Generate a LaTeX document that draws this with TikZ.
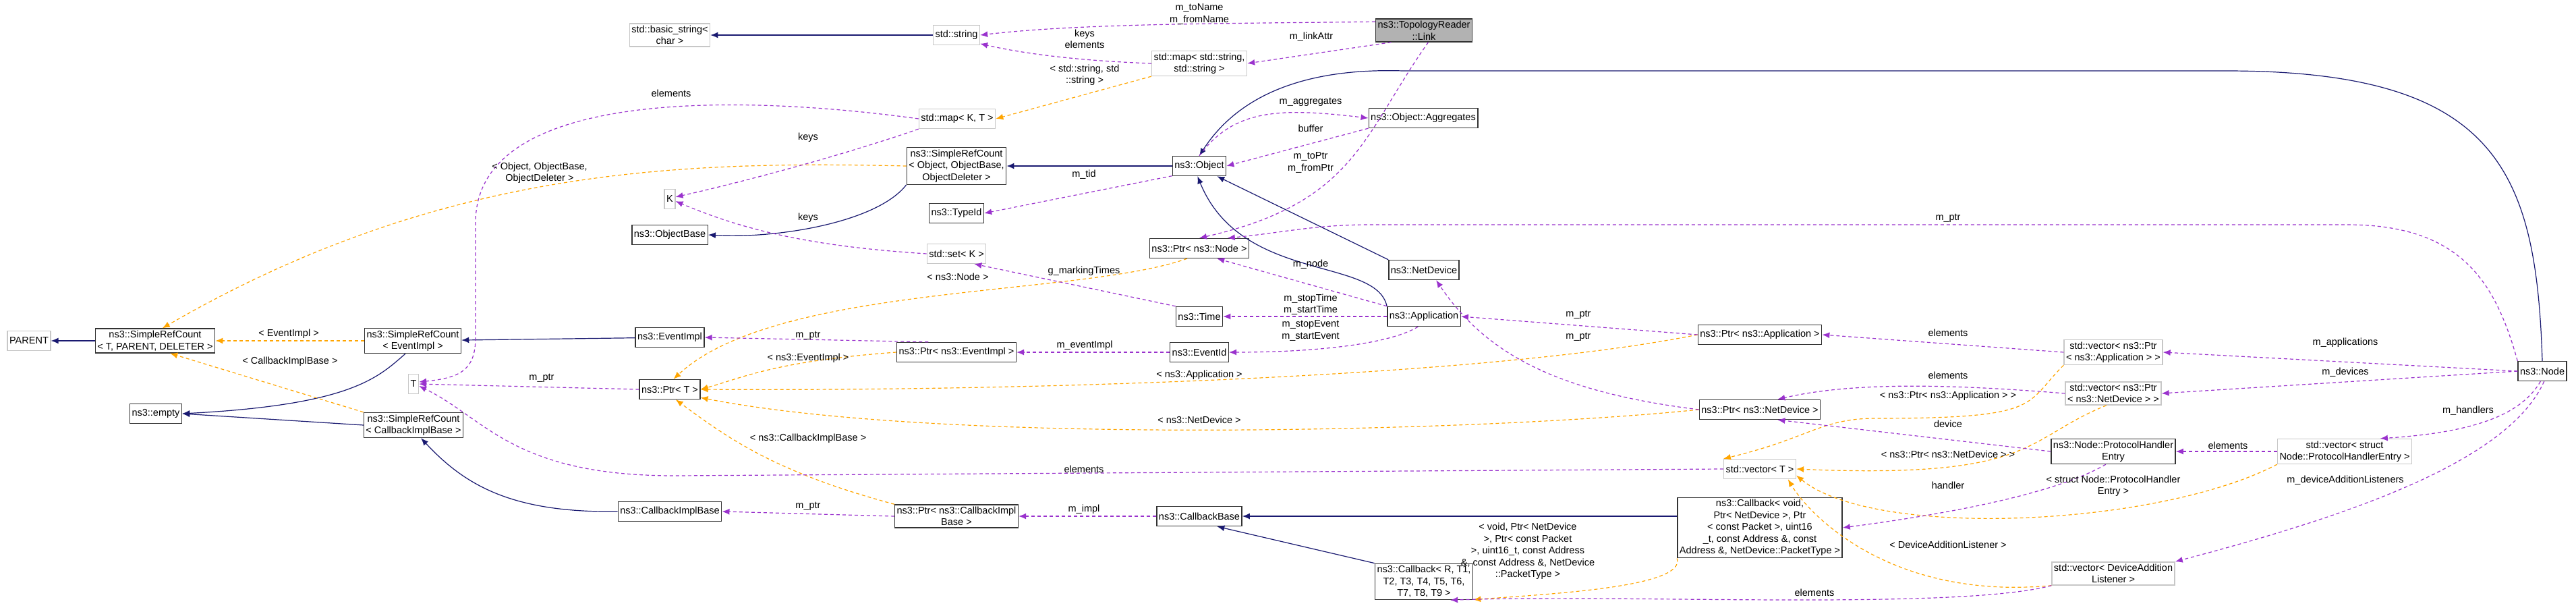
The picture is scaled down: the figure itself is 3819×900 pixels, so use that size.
\documentclass[tikz,border=0pt]{standalone}
\usepackage{fontspec}
\setmainfont{Liberation Sans}
\usetikzlibrary{arrows.meta}
\definecolor{inhblue}{HTML}{191970}
\definecolor{usepurple}{HTML}{9A32CD}
\definecolor{tplorange}{HTML}{FFA500}
\tikzset{
  cls/.style={draw=black!80,line width=1.4pt,fill=white,inner sep=3pt,minimum height=29pt,align=center,font=\fontsize{14.5}{17.5}\selectfont},
  ext/.style={cls,draw=black!22},
  hl/.style={cls,fill=black!30},
  lbl/.style={inner sep=1pt,align=center,font=\fontsize{14.5}{17.5}\selectfont},
  inh/.style={draw=inhblue,line width=1.2pt,-{Latex[length=11pt,width=9pt]}},
  use/.style={draw=usepurple,line width=1.2pt,dash pattern=on 5pt off 4pt,-{Latex[length=11pt,width=9pt]}},
  tpl/.style={draw=tplorange,line width=1.2pt,dash pattern=on 5pt off 4pt,-{Latex[length=11pt,width=9pt]}}
}
\begin{document}
\begin{tikzpicture}[x=1pt,y=-1pt]
  \useasboundingbox (0,0) rectangle (3819,900);
  % classes
  \node[ext] (parent) at (43,505) {PARENT};
  \node[cls] (srcT) at (230,505) {ns3::SimpleRefCount\\< T, PARENT, DELETER >};
  \node[cls] (empty) at (231,613) {ns3::empty};
  \node[cls] (srcEv) at (612,505) {ns3::SimpleRefCount\\< EventImpl >};
  \node[cls] (srcCB) at (613,630) {ns3::SimpleRefCount\\< CallbackImplBase >};
  \node[ext] (T) at (613,569) {T};
  \node[ext] (bstr) at (993,52) {std::basic\_string<\\char >};
  \node[ext] (K) at (993,295) {K};
  \node[cls] (objBase) at (993,348) {ns3::ObjectBase};
  \node[cls] (evImpl) at (993,500) {ns3::EventImpl};
  \node[cls] (ptrT) at (993,577) {ns3::Ptr< T >};
  \node[cls] (cbImpl) at (993,758) {ns3::CallbackImplBase};
  \node[ext] (str) at (1418,52) {std::string};
  \node[ext] (mapKT) at (1419,176) {std::map< K, T >};
  \node[cls] (srcObj) at (1418,246) {ns3::SimpleRefCount\\< Object, ObjectBase,\\ ObjectDeleter >};
  \node[cls] (typeId) at (1418,316) {ns3::TypeId};
  \node[ext] (setK) at (1418,376) {std::set< K >};
  \node[cls] (ptrEv) at (1418,522) {ns3::Ptr< ns3::EventImpl >};
  \node[cls] (ptrCB) at (1418,765) {ns3::Ptr< ns3::CallbackImpl\\Base >};
  \node[ext] (strmap) at (1778,94) {std::map< std::string,\\ std::string >};
  \node[cls] (object) at (1778,246) {ns3::Object};
  \node[cls] (ptrNode) at (1778,368) {ns3::Ptr< ns3::Node >};
  \node[cls] (time) at (1778,469) {ns3::Time};
  \node[cls] (evId) at (1778,522) {ns3::EventId};
  \node[cls] (cbBase) at (1778,765) {ns3::CallbackBase};
  \node[hl] (link) at (2111,45) {ns3::TopologyReader\\::Link};
  \node[cls] (aggr) at (2110,175) {ns3::Object::Aggregates};
  \node[cls] (netdev) at (2111,400) {ns3::NetDevice};
  \node[cls] (app) at (2111,469) {ns3::Application};
  \node[cls] (cbR) at (2111,862) {ns3::Callback< R, T1,\\ T2, T3, T4, T5, T6,\\ T7, T8, T9 >};
  \node[cls] (ptrApp) at (2609,496) {ns3::Ptr< ns3::Application >};
  \node[cls] (ptrNd) at (2609,607) {ns3::Ptr< ns3::NetDevice >};
  \node[ext] (vecT) at (2609,695) {std::vector< T >};
  \node[cls] (cbVoid) at (2609,782) {ns3::Callback< void,\\ Ptr< NetDevice >, Ptr\\< const Packet >, uint16\\\_t, const Address \&, const\\ Address \&, NetDevice::PacketType >};
  \node[ext] (vecApp) at (3133,522) {std::vector< ns3::Ptr\\< ns3::Application > >};
  \node[ext] (vecNd) at (3133,583) {std::vector< ns3::Ptr\\< ns3::NetDevice > >};
  \node[cls] (phe) at (3133,669) {ns3::Node::ProtocolHandler\\Entry};
  \node[ext] (vecDal) at (3133,850) {std::vector< DeviceAddition\\Listener >};
  \node[ext] (vecPhe) at (3476,669) {std::vector< struct\\ Node::ProtocolHandlerEntry >};
  \node[cls] (node) at (3769,550) {ns3::Node};
  % inheritance
  \draw[inh] (str) -- (bstr);
  \draw[inh] (srcT) -- (parent);
  \draw[inh] (srcEv.240) .. controls (560,560) and (520,600) .. (empty.east);
  \draw[inh] (srcCB.west) -- (empty.east);
  \draw[inh] (evImpl) -- (srcEv);
  \draw[inh] (cbImpl.west) .. controls (760,760) and (690,720) .. (srcCB.-60);
  \draw[inh] (srcObj.south west) .. controls (1300,330) and (1150,354) .. (objBase.east);
  \draw[inh] (object) -- (srcObj);
  \draw[inh] (node.north) .. controls (3760,250) and (3700,105) .. (3300,105) -- (2080,105) .. controls (1920,100) and (1830,150) .. (object.north);
  \draw[inh] (netdev.north west) -- (object.-30);
  \draw[inh] (app.north west) .. controls (2040,380) and (1840,420) .. (object.-100);
  \draw[inh] (cbVoid.west |- cbBase) -- (cbBase.east);
  \draw[inh] (cbR.north west) -- (cbBase.-30);
  % template instances
  \draw[tpl] (srcEv.west) -- (srcT.east);
  \draw[tpl] (srcCB.north west) -- (srcT.-40);
  \draw[tpl] (srcObj.west) .. controls (1000,238) and (650,250) .. (srcT.60);
  \draw[tpl] (strmap.south west) -- (mapKT.east);
  \draw[tpl] (ptrEv.west) .. controls (1150,535) and (1100,560) .. (ptrT.east);
  \draw[tpl] (ptrNode.220) .. controls (1600,440) and (1150,420) .. (ptrT.70);
  \draw[tpl] (ptrApp.west) .. controls (2200,560) and (1500,580) .. (ptrT.east);
  \draw[tpl] (ptrNd.west) .. controls (2200,640) and (1400,660) .. (ptrT.-15);
  \draw[tpl] (ptrCB.north west) .. controls (1150,700) and (1080,650) .. (ptrT.-60);
  \draw[tpl] (vecApp.south west) .. controls (3000,600) and (3030,620) .. (2780,620) .. controls (2700,620) and (2680,650) .. (vecT.north west);
  \draw[tpl] (vecNd.240) .. controls (3000,650) and (3020,710) .. (vecT.east);
  \draw[tpl] (vecPhe.south west) .. controls (3200,780) and (2780,800) .. (vecT.-10);
  \draw[tpl] (vecDal.south west) .. controls (2800,890) and (2680,760) .. (vecT.-20);
  \draw[tpl] (cbVoid.south west) .. controls (2500,870) and (2300,880) .. (cbR.-20);
  % usage
  \draw[use] (link.170) .. controls (1800,35) and (1600,35) .. (str.east);
  \draw[use] (link.200) -- (strmap.east);
  \draw[use] (link.-70) .. controls (2020,200) and (2010,300) .. (ptrNode.north);
  \draw[use] (strmap.west) .. controls (1600,90) and (1520,80) .. (str.-20);
  \draw[use] (mapKT.south west) .. controls (1250,230) and (1100,270) .. (K.20);
  \draw[use] (mapKT.west) .. controls (1100,140) and (705,130) .. (705,330) -- (705,500) .. controls (705,550) and (680,560) .. (T.20);
  \draw[use] (setK.west) .. controls (1200,365) and (1100,340) .. (K.-20);
  \draw[use] (object.north) .. controls (1830,160) and (1900,160) .. (aggr.west);
  \draw[use] (aggr.south west) -- (object.east);
  \draw[use] (object.-160) -- (typeId.east);
  \draw[use] (ptrT.west) -- (T.east);
  \draw[use] (ptrEv.160) -- (evImpl.east);
  \draw[use] (evId.west) -- (ptrEv.east);
  \draw[use] (app.west) -- (time.east);
  \draw[use] (app.-120) .. controls (2060,510) and (1950,522) .. (evId.east);
  \draw[use] (app.north west) -- (ptrNode.-30);
  \draw[use] (ptrApp.west) -- (app.east);
  \draw[use] (ptrNd.west) .. controls (2300,580) and (2200,520) .. (netdev.-40);
  \draw[use] (time.north west) -- (setK.-30);
  \draw[use] (cbBase.west) -- (ptrCB.east);
  \draw[use] (ptrCB.west) -- (cbImpl.east);
  \draw[use] (node.north west) .. controls (3700,420) and (3650,333) .. (3480,333) -- (2030,333) .. controls (1950,333) and (1900,345) .. (ptrNode.20);
  \draw[use] (vecT.west) -- (1000,705) .. controls (760,705) and (720,620) .. (T.-20);
  \draw[use] (vecApp.west) -- (ptrApp.east);
  \draw[use] (vecNd.west) .. controls (2900,570) and (2750,565) .. (ptrNd.30);
  \draw[use] (node.west) -- (vecApp.east);
  \draw[use] (node.west) -- (vecNd.east);
  \draw[use] (node.-100) .. controls (3740,610) and (3680,640) .. (vecPhe.20);
  \draw[use] (node.-80) .. controls (3720,680) and (3500,760) .. (vecDal.north east);
  \draw[use] (vecPhe.west) -- (phe.east);
  \draw[use] (phe.west) -- (ptrNd.-30);
  \draw[use] (phe.-120) .. controls (3050,730) and (2900,760) .. (cbVoid.east);
  \draw[use] (vecDal.south west) .. controls (2900,905) and (2400,880) .. (cbR.-35);
  % labels
  \node[lbl] (lToName) at (1778,21) {m\_toName\\m\_fromName};
  \node[lbl] (lLinkAttr) at (1944,55) {m\_linkAttr};
  \node[lbl] (lKeysEl) at (1608,58) {keys\\elements};
  \node[lbl] (lStrTpl) at (1608,111) {< std::string, std\\::string >};
  \node[lbl] (lElem1) at (995,138) {elements};
  \node[lbl] (lKeys1) at (1198,204) {keys};
  \node[lbl] (lKeys2) at (1198,323) {keys};
  \node[lbl] (lObjTpl) at (800,256) {< Object, ObjectBase,\\ObjectDeleter >};
  \node[lbl] (lAggr) at (1943,151) {m\_aggregates};
  \node[lbl] (lBuffer) at (1943,190) {buffer};
  \node[lbl] (lToPtr) at (1943,241) {m\_toPtr\\m\_fromPtr};
  \node[lbl] (lTid) at (1607,259) {m\_tid};
  \node[lbl] (lNodeTpl) at (1420,410) {< ns3::Node >};
  \node[lbl] (lMarking) at (1607,402) {g\_markingTimes};
  \node[lbl] (lNode) at (1943,392) {m\_node};
  \node[lbl] (lTime) at (1943,451) {m\_stopTime\\m\_startTime};
  \node[lbl] (lEvent) at (1943,490) {m\_stopEvent\\m\_startEvent};
  \node[lbl] (lEvImpl) at (1608,512) {m\_eventImpl};
  \node[lbl] (lAppTpl) at (1778,556) {< ns3::Application >};
  \node[lbl] (lNdTpl) at (1778,622) {< ns3::NetDevice >};
  \node[lbl] (lElem2) at (1607,695) {elements};
  \node[lbl] (lImpl) at (1607,755) {m\_impl};
  \node[lbl] (lEvTpl) at (428,495) {< EventImpl >};
  \node[lbl] (lCbTpl) at (430,536) {< CallbackImplBase >};
  \node[lbl] (lPtrT) at (803,560) {m\_ptr};
  \node[lbl] (lPtrEv) at (1198,497) {m\_ptr};
  \node[lbl] (lEvTpl2) at (1198,531) {< ns3::EventImpl >};
  \node[lbl] (lCbTpl2) at (1198,650) {< ns3::CallbackImplBase >};
  \node[lbl] (lPtrCb) at (1198,750) {m\_ptr};
  \node[lbl] (lPtrApp) at (2340,466) {m\_ptr};
  \node[lbl] (lPtrNd) at (2340,499) {m\_ptr};
  \node[lbl] (lVoidTpl) at (2265,817) {< void, Ptr< NetDevice\\>, Ptr< const Packet\\>, uint16\_t, const Address\\\&, const Address \&, NetDevice\\::PacketType >};
  \node[lbl] (lPtrNode) at (2888,323) {m\_ptr};
  \node[lbl] (lElem3) at (2888,493) {elements};
  \node[lbl] (lApps) at (3477,508) {m\_applications};
  \node[lbl] (lElem4) at (2888,556) {elements};
  \node[lbl] (lDevs) at (3477,552) {m\_devices};
  \node[lbl] (lPAppTpl) at (2888,587) {< ns3::Ptr< ns3::Application > >};
  \node[lbl] (lDevice) at (2888,628) {device};
  \node[lbl] (lHandlers) at (3659,609) {m\_handlers};
  \node[lbl] (lElem5) at (3303,660) {elements};
  \node[lbl] (lPNdTpl) at (2888,673) {< ns3::Ptr< ns3::NetDevice > >};
  \node[lbl] (lHandler) at (2888,719) {handler};
  \node[lbl] (lPheTpl) at (3133,720) {< struct Node::ProtocolHandler\\Entry >};
  \node[lbl] (lDal) at (3477,712) {m\_deviceAdditionListeners};
  \node[lbl] (lDalTpl) at (2888,807) {< DeviceAdditionListener >};
  \node[lbl] (lElem6) at (2690,878) {elements};
\end{tikzpicture}
\end{document}
